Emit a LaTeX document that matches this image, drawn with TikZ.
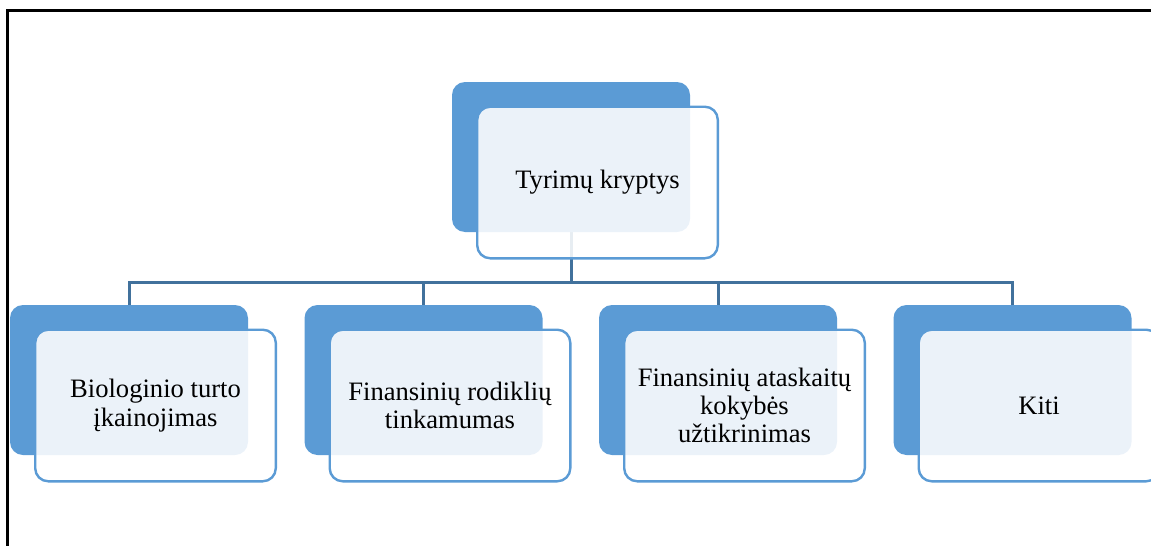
\documentclass[tikz,border=0pt]{standalone}
\usepackage{fontspec}
\setmainfont{Liberation Serif}
\usetikzlibrary{positioning,calc,backgrounds}
\definecolor{boxblue}{HTML}{5B9BD5}
\definecolor{linkblue}{HTML}{41719C}
\tikzstyle{back} = [rectangle, fill=boxblue, rounded corners=6.5pt, minimum width=119pt, minimum height=75pt]
\tikzstyle{front} = [rectangle, draw=boxblue, line width=1.2pt, fill=white, fill opacity=0.88, text opacity=1, rounded corners=6.5pt, minimum width=120.3pt, minimum height=75.8pt, align=center, font=\fontsize{13.3}{14.1}\selectfont]
\tikzstyle{link} = [draw=linkblue, line width=1.5pt]

\begin{document}
\begin{tikzpicture}[x=0.5pt, y=-0.5pt, node distance=147.25pt]
    \useasboundingbox (0,0) rectangle (1151,546);
    \draw[line width=1.1pt] (1151,10.5) -- (7.5,10.5) -- (7.5,546);

    \node[back] (top) at (571,157) {};
    \node[front] (topf) at ($(top)+(26.5,25.5)$) {Tyrimų kryptys};

    \node[back] (bio) at (129,380) {};
    \node[back, right of=bio] (rod) {};
    \node[back, right of=rod] (ata) {};
    \node[back, right of=ata] (kiti) {};

    \node[front] (biof) at ($(bio)+(26.5,25.5)$) {Biologinio turto\\įkainojimas};
    \node[front] (rodf) at ($(rod)+(26.5,25.5)$) {Finansinių rodiklių\\tinkamumas};
    \node[front] (ataf) at ($(ata)+(26.5,25.5)$) {Finansinių ataskaitų\\kokybės\\užtikrinimas};
    \node[front] (kitif) at ($(kiti)+(26.5,25.5)$) {Kiti};

    \begin{pgfonlayer}{background}
        \coordinate (bus) at (571,282);
        \draw[link] (top.south) -- (bus);
        \foreach \c in {bio,rod,ata,kiti}
            \draw[link] (bus) -| (\c.north);
    \end{pgfonlayer}
\end{tikzpicture}
\end{document}
